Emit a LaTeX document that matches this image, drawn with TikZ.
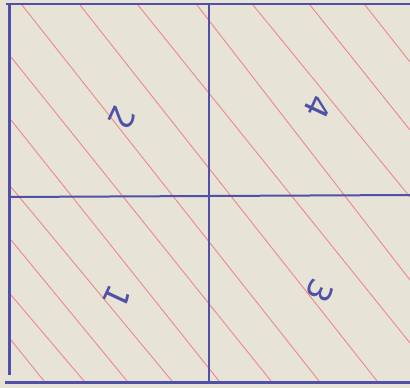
\documentclass[tikz,border=0pt]{standalone}
\usepackage{fontspec}
\newfontfamily\digitfont{DejaVu Sans}
\definecolor{paper}{RGB}{231,227,214}
\definecolor{ink}{RGB}{80,80,168}
\definecolor{hatch}{RGB}{236,138,138}
\tikzset{
  border/.style={draw=ink, line width=2.6pt},
  grid/.style={draw=ink, line width=2pt},
  hatchline/.style={draw=hatch, line width=0.9pt},
  digit/.style={text=ink, font=\digitfont\fontsize{33}{33}\selectfont, inner sep=0pt, rotate=-115}
}
\begin{document}
\begin{tikzpicture}[x=1pt,y=-1pt]
\fill[paper] (0,0) rectangle (410,388);
\useasboundingbox (0,0) rectangle (410,388);
% hatching
\draw[hatchline] (365,5) -- (410,62);
\draw[hatchline] (310,5) -- (410,130);
\draw[hatchline] (253,5) -- (410,197);
\draw[hatchline] (197,5) -- (410,280);
\draw[hatchline] (138,5) -- (410,343);
\draw[hatchline] (80,5) -- (377,381);
\draw[hatchline] (22,5) -- (319,381);
\draw[hatchline] (11,57) -- (271,381);
\draw[hatchline] (11,120) -- (219,381);
\draw[hatchline] (11,187) -- (172,381);
\draw[hatchline] (11,240) -- (127,381);
\draw[hatchline] (11,295) -- (84,381);
\draw[hatchline] (11,340) -- (44,381);
% grid
\draw[border] (6,4) -- (410,4);
\draw[border, line width=3pt] (9,4) -- (9,375);
\draw[grid] (209,4) -- (209,382);
\draw[grid] (9,197) -- (410,195);
\draw[border, line width=3pt] (5,382) -- (410,382);
% digits
\node[digit] (d2) at (122,118) {2};
\node[digit] (d4) at (318,107) {4};
\node[digit] (d1) at (117,297) {1};
\node[digit] (d3) at (320,291) {3};
\end{tikzpicture}
\end{document}
